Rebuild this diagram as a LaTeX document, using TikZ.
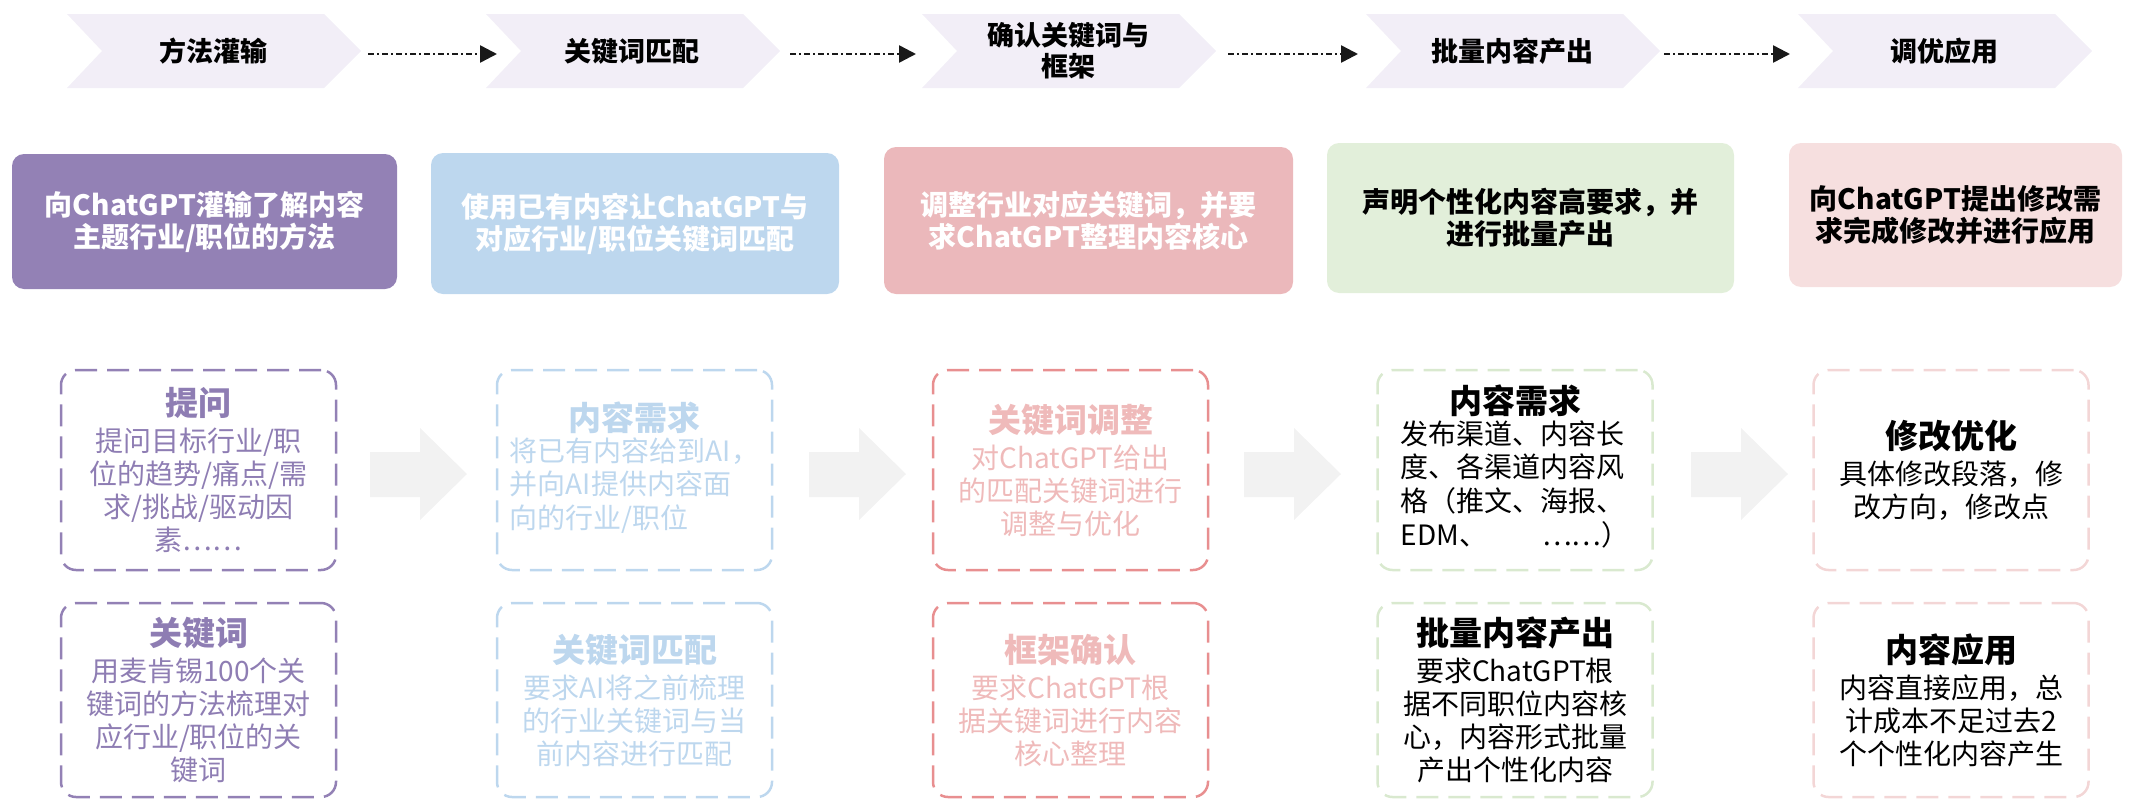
\documentclass[tikz,border=0pt]{standalone}
\usepackage{fontspec}
\setmainfont{Noto Sans CJK SC}
\usetikzlibrary{arrows.meta}
\definecolor{chevc}{HTML}{F2EEF7}
\definecolor{purp}{HTML}{9381B5}
\definecolor{purptxt}{HTML}{8E7DB3}
\definecolor{bluec}{HTML}{BDD7EE}
\definecolor{pinkc}{HTML}{EBB8BB}
\definecolor{redln}{HTML}{E88F90}
\definecolor{redtxt}{HTML}{EFBABA}
\definecolor{greenc}{HTML}{E2EFDA}
\definecolor{greenln}{HTML}{D9E9CF}
\definecolor{lpink}{HTML}{F6DFDF}
\definecolor{lpinkln}{HTML}{F3D6D6}
\definecolor{grayarr}{HTML}{F2F2F2}
\newcommand\mychev[3]{%
  \fill[chevc] (#1,14) -- (#1+257,14) -- (#1+294,51) -- (#1+257,88) -- (#1,88) -- (#1+35,51) -- cycle;
  \node[chevtext] (#2) at (#1+146,51) {#3};}
\newcommand\bigarr[2]{%
  \fill[grayarr] (#1,452) -- (#1+50,452) -- (#1+50,428) -- (#1+97,474) -- (#1+50,520) -- (#1+50,497) -- (#1,497) -- cycle;
  \coordinate (#2) at (#1+48,474);}
\newcommand\ttlf[1]{{\fontsize{33}{33}\selectfont\bfseries #1}}
\begin{document}
\begin{tikzpicture}[x=1pt,y=-1pt,
  chevtext/.style={align=center,font=\fontsize{27}{31}\selectfont\bfseries,inner sep=0pt},
  flow/.style={draw=black!90,line width=2.5pt,dash pattern=on 6pt off 3pt on 2pt off 3pt,-{Triangle[length=17pt,width=17pt]}},
  topbox/.style={rounded corners=12pt,inner sep=0pt,align=center,font=\fontsize{28}{32}\selectfont\bfseries},
  dbox/.style={rounded corners=15pt,inner sep=0pt,align=center,line width=2.5pt,dash pattern=on 22pt off 10pt,
    minimum width=275pt,font=\fontsize{28}{33}\selectfont}]
\useasboundingbox (0,0) rectangle (2136,798);
% chevrons
\mychev{67}{c1}{方法灌输}
\mychev{486}{c2}{关键词匹配}
\mychev{922}{c3}{确认关键词与\\框架}
\mychev{1366}{c4}{批量内容产出}
\mychev{1798}{c5}{调优应用}
\coordinate (a1s) at (368,54); \coordinate (a1e) at (497,54);
\coordinate (a2s) at (790,54); \coordinate (a2e) at (916,54);
\coordinate (a3s) at (1228,54); \coordinate (a3e) at (1358,54);
\coordinate (a4s) at (1664,54); \coordinate (a4e) at (1790,54);
\draw[flow] (a1s) -- (a1e);
\draw[flow] (a2s) -- (a2e);
\draw[flow] (a3s) -- (a3e);
\draw[flow] (a4s) -- (a4e);
% row 2
\node[topbox,fill=purp,text=white,minimum width=385pt,minimum height=135pt] (b1) at (204.5,221.5)
  {向ChatGPT灌输了解内容\\主题行业/职位的方法};
\node[topbox,fill=bluec,text=white,minimum width=408pt,minimum height=141pt] (b2) at (635,223.5)
  {使用已有内容让ChatGPT与\\对应行业/职位关键词匹配};
\node[topbox,fill=pinkc,text=white,minimum width=409pt,minimum height=147pt] (b3) at (1088.5,220.5)
  {调整行业对应关键词，并要\\求ChatGPT整理内容核心};
\node[topbox,fill=greenc,text=black,minimum width=407pt,minimum height=150pt] (b4) at (1530.5,218)
  {声明个性化内容高要求，并\\进行批量产出};
\node[topbox,fill=lpink,text=black,minimum width=333pt,minimum height=144pt] (b5) at (1955.5,215)
  {向ChatGPT提出修改需\\求完成修改并进行应用};
% big gray arrows
\bigarr{370}{g1}
\bigarr{809}{g2}
\bigarr{1244}{g3}
\bigarr{1691}{g4}
% row 3
\node[dbox,draw=purp,text=purptxt,minimum height=200pt] (d1) at (198.5,470)
  {\ttlf{提问}\\[3pt]提问目标行业/职\\位的趋势/痛点/需\\求/挑战/驱动因\\素……};
\node[dbox,draw=bluec,text=bluec,minimum height=200pt] (d2) at (634.5,470)
  {\ttlf{内容需求}\\[3pt]\begin{tabular}{@{}l@{}}将已有内容给到AI，\\并向AI提供内容面\\向的行业/职位\end{tabular}};
\node[dbox,draw=redln,text=redtxt,minimum height=200pt] (d3) at (1070.5,470)
  {\ttlf{关键词调整}\\[3pt]对ChatGPT给出\\的匹配关键词进行\\调整与优化};
\node[dbox,draw=greenln,text=black,minimum height=200pt] (d4) at (1515,470)
  {\ttlf{内容需求}\\[3pt]\begin{tabular}{@{}l@{}}发布渠道、内容长\\度、各渠道内容风\\格（推文、海报、\\EDM、\hspace{55pt}……）\end{tabular}};
\node[dbox,draw=lpinkln,text=black,minimum height=200pt] (d5) at (1951,470)
  {\ttlf{修改优化}\\[3pt]具体修改段落，修\\改方向，修改点};
% row 4
\node[dbox,draw=purp,text=purptxt,minimum height=194pt] (e1) at (198.5,700)
  {\ttlf{关键词}\\[3pt]用麦肯锡100个关\\键词的方法梳理对\\应行业/职位的关\\键词};
\node[dbox,draw=bluec,text=bluec,minimum height=194pt] (e2) at (634.5,700)
  {\ttlf{关键词匹配}\\[3pt]要求AI将之前梳理\\的行业关键词与当\\前内容进行匹配};
\node[dbox,draw=redln,text=redtxt,minimum height=194pt] (e3) at (1070.5,700)
  {\ttlf{框架确认}\\[3pt]要求ChatGPT根\\据关键词进行内容\\核心整理};
\node[dbox,draw=greenln,text=black,minimum height=194pt] (e4) at (1515,700)
  {\ttlf{批量内容产出}\\[3pt]要求ChatGPT根\\据不同职位内容核\\心，内容形式批量\\产出个性化内容};
\node[dbox,draw=lpinkln,text=black,minimum height=194pt] (e5) at (1951,700)
  {\ttlf{内容应用}\\[3pt]内容直接应用，总\\计成本不足过去2\\个个性化内容产生};
\end{tikzpicture}
\end{document}
